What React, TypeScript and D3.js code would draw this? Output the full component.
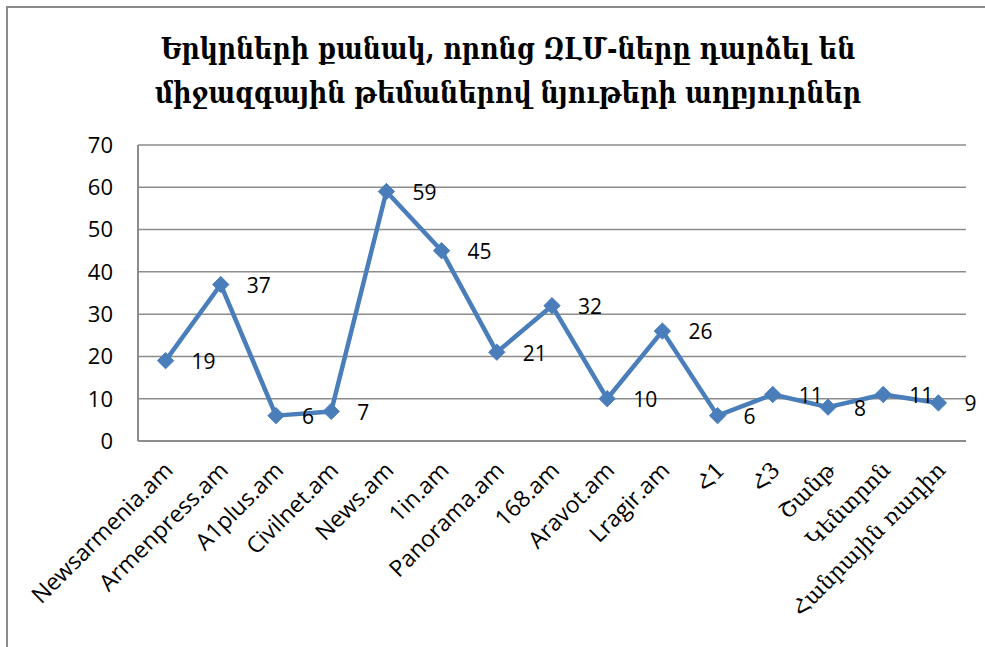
import React from "react";
import * as d3 from "d3";

const categories = [
  "Newsarmenia.am", "Armenpress.am", "A1plus.am", "Civilnet.am", "News.am",
  "1in.am", "Panorama.am", "168.am", "Aravot.am", "Lragir.am",
  "Հ1", "Հ3", "Շանթ", "Կենտրոն", "Հանրային ռադիո",
];
const values = [19, 37, 6, 7, 59, 45, 21, 32, 10, 26, 6, 11, 8, 11, 9];
const yTicks = [0, 10, 20, 30, 40, 50, 60, 70];
const titleLines = [
  "Երկրների քանակ, որոնց ԶԼՄ-ները դարձել են",
  "միջազգային թեմաներով նյութերի աղբյուրներ",
];

const W = 985;
const H = 647;
const plot = { left: 138, right: 966, top: 145, bottom: 441 };
const lineColor = "#4a7ebb";
const gridColor = "#8c8c8c";
const labelFont = "'Open Sans', sans-serif";

export default function App() {
  const x = d3
    .scaleBand<string>()
    .domain(categories)
    .range([plot.left, plot.right]);
  const y = d3.scaleLinear().domain([0, 70]).range([plot.bottom, plot.top]);
  const cx = (c: string) => (x(c) as number) + x.bandwidth() / 2;

  const line = d3
    .line<number>()
    .x((_, i) => cx(categories[i]))
    .y((d) => y(d));

  const diamond = d3.symbol().type(d3.symbolDiamond2 ?? d3.symbolDiamond).size(170)();

  return (
    <svg
      width={W}
      height={H}
      style={{ position: "absolute", left: 0, top: 0, background: "#fff" }}
    >
      <rect x={7} y={7} width={W + 20} height={H + 20} fill="#fff" stroke="#8a8a8a" strokeWidth={2} />
      {titleLines.map((t, i) => (
        <text
          key={i}
          transform={`translate(508,${59 + i * 44}) scale(0.97,1.12)`}
          textAnchor="middle"
          fontFamily="'DejaVu Serif', serif"
          fontWeight="bold"
          fontSize={26}
          fill="#000"
        >
          {t}
        </text>
      ))}
      {yTicks.map((t) => (
        <g key={t}>
          {t > 0 && (
            <line
              x1={plot.left}
              x2={plot.right}
              y1={y(t)}
              y2={y(t)}
              stroke={gridColor}
              strokeWidth={1.5}
            />
          )}
          <text
            x={113}
            y={y(t)}
            dy="0.36em"
            textAnchor="end"
            fontFamily={labelFont}
            fontSize={22}
            fill="#000"
          >
            {t}
          </text>
        </g>
      ))}
      <line x1={plot.left} x2={plot.left} y1={plot.top} y2={plot.bottom} stroke={gridColor} strokeWidth={2} />
      <line x1={plot.left} x2={plot.right} y1={plot.bottom} y2={plot.bottom} stroke={gridColor} strokeWidth={2} />
      {categories.map((c) => {
        const isArm = /[\u0530-\u058F]/.test(c);
        return (
          <text
            key={c}
            transform={`translate(${cx(c) + 3},${plot.bottom + 25}) rotate(-45)`}
            textAnchor="end"
            dy="0.35em"
            fontFamily={isArm ? "'DejaVu Serif', serif" : labelFont}
            fontSize={isArm ? 22 : 23}
            fill="#000"
          >
            {c}
          </text>
        );
      })}
      <path d={line(values) ?? ""} fill="none" stroke={lineColor} strokeWidth={4.5} strokeLinejoin="round" />
      {values.map((v, i) => (
        <path
          key={i}
          d={diamond ?? ""}
          transform={`translate(${cx(categories[i])},${y(v)})`}
          fill={lineColor}
          stroke={lineColor}
          strokeWidth={1}
        />
      ))}
      {values.map((v, i) => (
        <text
          key={"l" + i}
          x={cx(categories[i]) + 26}
          y={y(v)}
          dy="0.4em"
          fontFamily={labelFont}
          fontSize={21}
          fill="#000"
        >
          {v}
        </text>
      ))}
    </svg>
  );
}
